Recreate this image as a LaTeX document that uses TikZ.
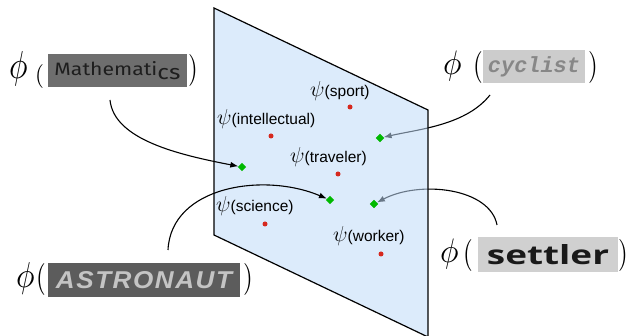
\documentclass[tikz,border=0pt]{standalone}
\usepackage[no-math]{fontspec}
\usepackage{graphicx}
\setmainfont{Liberation Sans}
\newfontfamily\mathsfont{Fira Sans}
\newfontfamily\cycfont{Liberation Mono}
\newfontfamily\astrofont[LetterSpace=6]{Liberation Sans}
\newfontfamily\setlfont{Open Sans}
\usetikzlibrary{arrows.meta}
\definecolor{planefill}{RGB}{191,218,247}
\definecolor{dotred}{RGB}{214,40,30}
\definecolor{diamgreen}{RGB}{0,185,0}
\definecolor{mathbg}{RGB}{110,110,110}
\definecolor{mathfg}{RGB}{30,30,30}
\definecolor{cycbg}{RGB}{204,204,204}
\definecolor{cycfg}{RGB}{135,135,135}
\definecolor{astrobg}{RGB}{92,92,92}
\definecolor{astrofg}{RGB}{196,196,196}
\definecolor{setbg}{RGB}{208,208,208}
\definecolor{setfg}{RGB}{25,25,25}
\newcommand\bigphi[1][3.6]{\scalebox{3.1}[#1]{$\phi$}}
\newcommand\lpar{\scalebox{2.5}[3.2]{$($}}
\newcommand\rpar{\scalebox{2.5}[3.2]{$)$}}
\newcommand\mypsi{\scalebox{1.5}{$\psi$}}
\tikzset{
  dot/.style={circle, fill=dotred, inner sep=0pt, minimum size=5pt},
  gdiam/.style={rectangle, rotate=45, fill=diamgreen, inner sep=0pt, minimum size=5.8pt},
  lab/.style={inner sep=0pt, anchor=base west, font=\fontsize{15.5}{18}\selectfont},
  sym/.style={inner sep=0pt, anchor=base west, font=\fontsize{10}{12}\selectfont},
  wordbox/.style={rectangle, inner sep=0pt},
  arr/.style={line width=1.1pt, -{Latex[length=8pt,width=6pt]}},
}
\begin{document}
\begin{tikzpicture}[x=1pt,y=-1pt]
\useasboundingbox (0,0) rectangle (632,336);
% connectors behind the plane
\coordinate (cycstart) at (490,95);
\coordinate (setstart) at (497,225);
\node[gdiam] (dcyc) at (380,138) {};
\node[gdiam] (dset) at (374,204) {};
\draw[arr] (cycstart) .. controls (466,125) and (420,129) .. (dcyc);
\draw[arr] (setstart) .. controls (490,188) and (420,180) .. (dset);
% plane
\draw[line width=1.2pt, fill=planefill, fill opacity=0.55] (214,8) -- (428,110) -- (428,337) -- (214,235) -- cycle;
% concept points
\node[dot] (psport) at (350,107) {};
\node[dot] (pintel) at (271,136) {};
\node[dot] (ptrav) at (338,174) {};
\node[dot] (psci) at (265,224) {};
\node[dot] (pwork) at (381,254) {};
\node[lab] (lsport) at (310,97) {\mypsi(sport)};
\node[lab] (lintel) at (217,125) {\mypsi(intellectual)};
\node[lab] (ltrav) at (290,163) {\mypsi(traveler)};
\node[lab] (lsci) at (216,212) {\mypsi(science)};
\node[lab] (lwork) at (333,242) {\mypsi(worker)};
% front connectors
\coordinate (mathstart) at (110,100);
\coordinate (astrostart) at (168,250);
\node[gdiam] (dmath) at (242,167) {};
\node[gdiam] (dastro) at (330,200) {};
\draw[arr] (mathstart) .. controls (114,140) and (180,155) .. (dmath);
\draw[arr] (astrostart) .. controls (171,186) and (264,172) .. (dastro);
% redraw diamonds on top
\node[gdiam] at (dcyc) {};
\node[gdiam] at (dset) {};
% Mathematics
\node[sym] (phimath) at (9,79) {\bigphi[3.9]};
\node[sym] (lpmath) at (35,83) {\scalebox{2.3}[2.4]{$($}};
\node[wordbox, fill=mathbg, text=mathfg, minimum width=139pt, minimum height=33pt] (wmath) at (117.5,70.5)
  {\resizebox{126pt}{14pt}{\mathsfont Mathemati\raisebox{-2pt}{\scalebox{1.15}{cs}}}};
\node[sym] (rpmath) at (188,79) {\rpar};
% cyclist
\node[sym] (phicyc) at (443,75) {\bigphi[3.4]};
\node[sym] (lpcyc) at (473,76) {\lpar};
\node[wordbox, fill=cycbg, text=cycfg, minimum width=102pt, minimum height=33pt] (wcyc) at (534,67)
  {\resizebox{92pt}{!}{\cycfont\bfseries\itshape cyclist}};
\node[sym] (rpcyc) at (588,76) {\rpar};
% ASTRONAUT
\node[sym] (phiastro) at (16,288) {\bigphi[3.6]};
\node[sym] (lpastro) at (36,288) {\lpar};
\node[wordbox, fill=astrobg, text=astrofg, minimum width=192pt, minimum height=34pt] (wastro) at (144,280)
  {\resizebox{176pt}{17pt}{\astrofont\bfseries\itshape ASTRONAUT}};
\node[sym] (rpastro) at (243,288) {\rpar};
% settler
\node[sym] (phiset) at (440,263) {\bigphi[3.4]};
\node[sym] (lpset) at (463,264) {\lpar};
\node[wordbox, fill=setbg, text=setfg, minimum width=140pt, minimum height=35pt] (wset) at (548,254.5)
  {\resizebox{122pt}{20pt}{\setlfont\bfseries settler}};
\node[sym] (rpset) at (618,264) {\rpar};
\end{tikzpicture}
\end{document}
